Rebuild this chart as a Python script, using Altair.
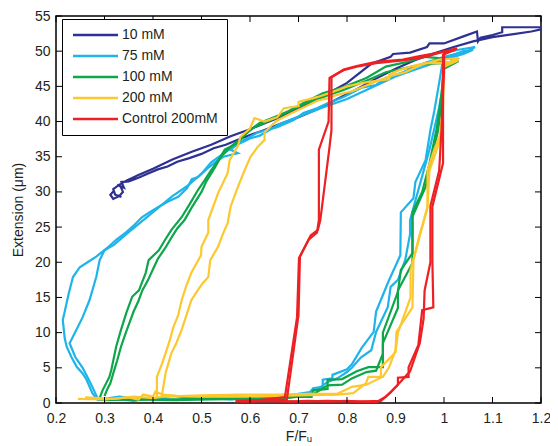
import altair as alt
import pandas as pd

series_names = ["10 mM", "75 mM", "100 mM", "200 mM", "Control 200mM"]
series_colors = ["#2E3192", "#1EB4EA", "#0DA64B", "#FDC82F", "#ED2024"]

x_ticks = [0.2, 0.3, 0.4, 0.5, 0.6, 0.7, 0.8, 0.9, 1.0, 1.1, 1.2]
y_ticks = [0, 5, 10, 15, 20, 25, 30, 35, 40, 45, 50, 55]

# ---- 10 mM ----
x_10a = [0.320, 0.312, 0.318, 0.330, 0.338, 0.333, 0.326, 0.340, 0.335, 0.350, 0.370, 0.390, 0.410, 0.430,
         0.450, 0.475, 0.500, 0.525, 0.550, 0.575, 0.600, 0.630, 0.660, 0.700, 0.740, 0.780, 0.820, 0.860,
         0.900, 0.940, 0.980, 1.020, 1.060, 1.100, 1.140, 1.180, 1.200, 1.200, 1.120, 1.120, 1.100, 1.075,
         1.070, 1.068, 1.040, 1.000, 0.970, 0.965, 0.930, 0.895, 0.890, 0.850, 0.800, 0.750, 0.700, 0.650,
         0.600, 0.560, 0.520, 0.480, 0.440, 0.400, 0.370, 0.345, 0.330, 0.318, 0.322, 0.335]
y_10a = [30.2, 29.6, 29.0, 29.4, 30.0, 30.8, 31.0, 30.6, 31.4, 31.5, 32.0, 32.6, 33.2, 33.6,
         34.3, 34.8, 35.4, 36.2, 36.7, 37.4, 38.1, 38.8, 39.6, 40.6, 41.8, 43.2, 44.6, 46.1,
         47.5, 48.7, 49.7, 50.6, 51.4, 52.0, 52.4, 52.8, 53.1, 53.4, 53.4, 52.7, 52.3, 51.9,
         51.4, 52.8, 52.1, 51.1, 51.1, 50.6, 49.8, 49.6, 49.2, 48.2, 45.5, 43.6, 41.8, 40.3,
         38.9, 37.9, 36.7, 35.7, 34.6, 33.3, 32.4, 31.6, 31.0, 30.4, 29.6, 29.3]

# ---- 75 mM ----
x_75a = [0.285, 0.32, 0.36, 0.40, 0.45, 0.50, 0.56, 0.62, 0.68, 0.72, 0.73, 0.75, 0.75, 0.77, 0.77, 0.80,
         0.81, 0.83, 0.855, 0.86, 0.885, 0.91, 0.911, 0.937, 0.941, 0.962, 0.972, 0.98, 0.99, 1.0, 1.03,
         1.064, 1.05, 1.0, 0.96, 0.915, 0.88, 0.86, 0.83, 0.793, 0.76, 0.738, 0.71, 0.69, 0.656, 0.615,
         0.58, 0.56, 0.575, 0.545, 0.534, 0.515, 0.493, 0.48, 0.47, 0.452, 0.43, 0.412, 0.395, 0.377,
         0.36, 0.345, 0.324, 0.305, 0.283, 0.265, 0.249, 0.235, 0.226, 0.218, 0.214, 0.218, 0.222,
         0.232, 0.243, 0.255, 0.263, 0.275, 0.286]
y_75a = [0.4, 0.6, 0.3, 0.7, 0.4, 0.8, 0.5, 0.9, 0.8, 1.2, 2.1, 2.3, 3.3, 3.5, 4.0, 4.8,
         5.5, 7.8, 10.1, 13.0, 17.2, 21.0, 27.1, 29.1, 31.4, 34.5, 38.8, 41.5, 45.5, 49.7, 50.2,
         50.6, 50.0, 49.2, 48.3, 47.0, 46.2, 45.2, 44.8, 43.5, 42.6, 41.9, 41.2, 40.2, 39.2, 38.4,
         37.1, 36.0, 35.5, 35.0, 34.5, 33.5, 32.1, 31.8, 30.5, 29.3, 28.6, 27.9, 27.2, 26.4,
         25.2, 24.3, 23.2, 22.0, 20.8, 20.0, 19.3, 17.9, 15.5, 13.0, 11.8, 9.2, 8.0,
         6.5, 5.1, 4.2, 3.3, 1.4, 0.4]
x_75b = [0.29, 0.33, 0.38, 0.44, 0.50, 0.56, 0.62, 0.68, 0.72, 0.74, 0.76, 0.78, 0.80, 0.81, 0.829,
         0.85, 0.86, 0.884, 0.89, 0.905, 0.92, 0.93, 0.93, 0.95, 0.97, 0.99, 1.0, 1.0, 1.04, 1.06, 1.04,
         1.0, 0.95, 0.9, 0.85, 0.8, 0.75, 0.70, 0.66, 0.62, 0.60, 0.57, 0.55, 0.52, 0.50, 0.47, 0.44,
         0.41, 0.38, 0.345, 0.32, 0.30, 0.29, 0.283, 0.269, 0.255, 0.239, 0.228, 0.24, 0.255, 0.27, 0.285]
y_75b = [0.5, 0.9, 0.5, 1.0, 0.6, 1.0, 0.7, 1.1, 1.5, 2.0, 3.0, 3.5, 4.4, 5.0, 6.5,
         7.5, 10.1, 13.6, 16.5, 17.5, 20.3, 24.0, 26.0, 31.0, 36.0, 42.0, 46.0, 49.0, 50.0, 50.2, 49.6,
         48.8, 47.6, 46.4, 44.8, 43.2, 42.0, 40.7, 39.6, 38.0, 37.6, 36.6, 35.7, 34.2, 32.6, 30.8, 29.4,
         27.7, 26.0, 24.0, 22.5, 21.7, 20.3, 17.9, 14.6, 12.2, 10.0, 8.5, 6.5, 5.0, 3.0, 0.8]

# ---- 100 mM ----
x_100a = [0.29, 0.35, 0.42, 0.50, 0.58, 0.656, 0.727, 0.73, 0.76, 0.76, 0.79, 0.82, 0.844, 0.874, 0.874,
          0.905, 0.905, 0.935, 0.935, 0.962, 0.975, 0.988, 0.995, 1.0, 1.03, 1.0, 0.962, 0.92, 0.88, 0.84,
          0.793, 0.76, 0.723, 0.69, 0.656, 0.63, 0.609, 0.59, 0.575, 0.548, 0.535, 0.52, 0.505, 0.493,
          0.475, 0.459, 0.438, 0.425, 0.412, 0.391, 0.385, 0.371, 0.357, 0.345, 0.334, 0.324, 0.318,
          0.314, 0.31, 0.296, 0.29]
y_100a = [0.5, 0.6, 0.5, 0.6, 0.7, 0.85, 0.85, 1.8, 2.0, 3.3, 3.4, 4.5, 5.1, 5.1, 8.5,
          13.5, 16.0, 19.9, 26.5, 30.7, 35.0, 38.8, 43.0, 47.5, 48.6, 48.3, 48.2, 47.6, 47.0, 45.8,
          44.5, 43.7, 42.8, 41.8, 40.6, 39.8, 39.2, 38.2, 37.0, 36.0, 34.5, 33.1, 31.5, 30.3,
          28.2, 26.4, 24.6, 23.2, 21.7, 20.3, 18.5, 16.0, 15.1, 12.8, 10.4, 8.0, 6.0,
          4.7, 3.7, 1.8, 0.7]
x_100b = [0.30, 0.36, 0.44, 0.52, 0.60, 0.66, 0.70, 0.73, 0.76, 0.79, 0.81, 0.84, 0.86, 0.874, 0.874,
          0.905, 0.911, 0.935, 0.935, 0.955, 0.97, 0.985, 0.995, 1.0, 1.025, 0.99, 0.96, 0.92, 0.88,
          0.84, 0.793, 0.75, 0.723, 0.68, 0.656, 0.62, 0.60, 0.58, 0.56, 0.54, 0.528, 0.51, 0.50, 0.48,
          0.465, 0.45, 0.438, 0.425, 0.41, 0.40, 0.39, 0.378, 0.37, 0.36, 0.352, 0.344, 0.334, 0.326,
          0.318, 0.312, 0.306, 0.30]
y_100b = [0.4, 0.5, 0.4, 0.5, 0.6, 0.6, 0.9, 1.2, 2.5, 2.6, 3.5, 4.4, 4.6, 7.0, 10.0,
          15.8, 18.9, 21.3, 27.1, 30.0, 34.0, 39.0, 44.0, 48.0, 48.9, 49.0, 49.2, 48.4, 47.8,
          46.2, 44.9, 44.0, 43.1, 41.5, 40.8, 39.8, 38.8, 37.5, 36.4, 35.0, 33.5, 31.5, 30.0, 27.8,
          26.0, 24.8, 23.5, 22.0, 20.5, 19.0, 17.5, 16.0, 14.5, 13.0, 11.5, 10.0, 8.0, 6.0,
          4.2, 2.8, 2.0, 1.0]

# ---- 200 mM ----
x_200a = [0.245, 0.30, 0.35, 0.37, 0.38, 0.40, 0.405, 0.42, 0.45, 0.50, 0.55, 0.60, 0.66, 0.72, 0.78,
          0.813, 0.839, 0.844, 0.874, 0.887, 0.90, 0.902, 0.935, 0.937, 0.950, 0.966, 0.966, 0.98, 0.996,
          0.998, 1.0, 1.03, 1.0, 0.962, 0.93, 0.907, 0.887, 0.887, 0.86, 0.833, 0.80, 0.77, 0.74, 0.70,
          0.70, 0.67, 0.656, 0.63, 0.609, 0.600, 0.58, 0.575, 0.558, 0.554, 0.534, 0.514, 0.514, 0.50,
          0.499, 0.479, 0.468, 0.459, 0.452, 0.442, 0.435, 0.426, 0.418, 0.408, 0.408]
y_200a = [0.6, 0.5, 0.8, 0.5, 1.2, 0.9, 1.6, 1.2, 1.0, 0.9, 0.9, 0.9, 1.0, 1.1, 1.2,
          1.4, 2.8, 3.7, 3.7, 5.1, 7.5, 10.1, 13.6, 20.3, 24.0, 27.7, 33.1, 36.0, 38.8,
          44.0, 47.8, 48.7, 48.3, 48.3, 47.8, 47.3, 46.7, 46.0, 45.8, 45.5, 45.0, 44.2, 43.5, 42.8,
          42.2, 41.9, 40.6, 40.0, 40.5, 39.0, 37.8, 36.5, 34.5, 32.7, 29.8, 26.0, 24.2, 22.2,
          21.0, 18.5, 16.5, 14.6, 12.5, 10.8, 9.0, 7.1, 5.5, 3.7, 0.85]
x_200b = [0.26, 0.32, 0.36, 0.40, 0.42, 0.50, 0.58, 0.66, 0.72, 0.78, 0.81, 0.84, 0.87, 0.87, 0.90,
          0.905, 0.931, 0.931, 0.955, 0.966, 0.97, 0.99, 0.998, 1.0, 1.03, 0.99, 0.95, 0.92, 0.89, 0.85,
          0.81, 0.78, 0.76, 0.74, 0.71, 0.686, 0.66, 0.65, 0.63, 0.63, 0.615, 0.601, 0.589, 0.575, 0.56,
          0.554, 0.544, 0.534, 0.518, 0.514, 0.502, 0.49, 0.479, 0.469, 0.459, 0.448, 0.438, 0.432,
          0.426, 0.418]
y_200b = [0.8, 0.6, 0.9, 0.7, 0.9, 1.1, 1.2, 1.2, 1.3, 1.3, 2.3, 2.6, 3.6, 5.1, 7.2,
          10.0, 15.0, 18.9, 25.0, 28.0, 33.0, 37.0, 42.0, 48.0, 49.0, 48.8, 48.0, 47.0, 46.5, 45.4,
          44.3, 43.8, 43.3, 43.0, 42.0, 41.2, 40.3, 39.8, 38.5, 37.4, 36.3, 35.0, 33.1, 30.7, 27.9,
          25.6, 24.0, 22.2, 20.3, 17.9, 17.0, 15.8, 14.6, 12.5, 10.4, 8.5, 7.1, 5.7,
          4.3, 0.9]

# ---- Control 200mM ----
x_ctla = [0.57, 0.60, 0.64, 0.68, 0.72, 0.76, 0.80, 0.83, 0.86, 0.88, 0.905, 0.905, 0.927, 0.927, 0.947,
          0.955, 0.978, 0.976, 0.976, 0.998, 0.998, 0.998, 1.0, 1.0, 1.027, 0.996, 0.962, 0.915, 0.86,
          0.82, 0.793, 0.782, 0.764, 0.762, 0.742, 0.742, 0.738, 0.721, 0.701, 0.697, 0.672, 0.62, 0.57]
y_ctla = [0.3, 0.2, 0.3, 0.2, 0.3, 0.2, 0.3, 0.2, 0.1, 0.9, 2.6, 3.6, 3.7, 5.1, 8.2,
          13.2, 13.6, 20.3, 27.9, 34.1, 38.8, 44.0, 47.0, 49.6, 50.4, 49.9, 49.2, 48.7, 48.3,
          47.8, 47.3, 46.9, 46.2, 40.0, 36.0, 26.0, 24.2, 23.2, 20.6, 12.2, 0.85, 0.4, 0.2]
x_ctlb = [0.58, 0.64, 0.70, 0.76, 0.82, 0.87, 0.89, 0.91, 0.93, 0.95, 0.958, 0.96, 0.972, 0.972, 0.99,
          0.995, 0.998, 0.998, 1.025, 0.99, 0.95, 0.915, 0.86, 0.82, 0.793, 0.782, 0.768, 0.768, 0.764,
          0.745, 0.740, 0.725, 0.703, 0.700, 0.676, 0.62, 0.58]
y_ctlb = [0.2, 0.3, 0.2, 0.3, 0.2, 0.3, 1.5, 3.0, 4.5, 8.5, 12.0, 16.0, 20.0, 28.0, 33.0,
          39.0, 47.0, 49.5, 50.3, 49.8, 49.3, 48.8, 48.5, 47.9, 47.4, 46.9, 46.3, 38.8, 36.4,
          26.0, 24.6, 23.8, 20.8, 12.5, 0.5, 0.3, 0.3]

loops = [
    ("10 mM", x_10a, y_10a),
    ("75 mM", x_75a, y_75a),
    ("75 mM", x_75b, y_75b),
    ("100 mM", x_100a, y_100a),
    ("100 mM", x_100b, y_100b),
    ("200 mM", x_200a, y_200a),
    ("200 mM", x_200b, y_200b),
    ("Control 200mM", x_ctla, y_ctla),
    ("Control 200mM", x_ctlb, y_ctlb),
]

rows = []
for i, (name, xs, ys) in enumerate(loops):
    for j, (xv, yv) in enumerate(zip(xs, ys)):
        rows.append({"series": name, "loop": i, "seq": j, "F": xv, "ext": yv})
df = pd.DataFrame(rows)

W, H = 485, 387
FONT = "Liberation Sans"
TXT = "#231F20"

xscale = alt.Scale(domain=[0.2, 1.2], nice=False, zero=False)
yscale = alt.Scale(domain=[0, 55], nice=False, zero=False)
xaxis = alt.Axis(values=x_ticks, format="~g", title="F/Fᵤ", ticks=False, domain=False,
                 grid=False, labelPadding=8, titlePadding=4, labelFlush=False)
yaxis = alt.Axis(values=y_ticks, format="d", title="Extension (μm)", ticks=False,
                 domain=False, grid=False, labelPadding=6, titlePadding=9, labelFlush=False)

lines = alt.Chart(df).mark_line(strokeWidth=2.2, clip=True).encode(
    x=alt.X("F:Q", scale=xscale, axis=xaxis, title="F/Fᵤ"),
    y=alt.Y("ext:Q", scale=yscale, axis=yaxis, title="Extension (μm)"),
    color=alt.Color("series:N", scale=alt.Scale(domain=series_names, range=series_colors),
                    legend=alt.Legend(title=None, orient="none", legendX=6, legendY=3,
                                      symbolType="M-1,0H8", symbolSize=100, symbolStrokeWidth=2.5,
                                      labelFontSize=14, labelFont=FONT, labelColor=TXT,
                                      strokeColor="black", fillColor="white", padding=9,
                                      rowPadding=7, labelOffset=37)),
    detail="loop:N",
    order="seq:Q",
)

tx = pd.DataFrame({"F": x_ticks})
ty = pd.DataFrame({"ext": y_ticks})
tick_b = alt.Chart(tx).mark_rule(color="black", strokeWidth=1).encode(
    x=alt.X("F:Q", scale=xscale, axis=xaxis, title="F/Fᵤ"), y=alt.value(H), y2=alt.value(H - 6))
tick_t = alt.Chart(tx).mark_rule(color="black", strokeWidth=1).encode(
    x=alt.X("F:Q", scale=xscale, axis=xaxis, title="F/Fᵤ"), y=alt.value(0), y2=alt.value(6))
tick_l = alt.Chart(ty).mark_rule(color="black", strokeWidth=1).encode(
    y=alt.Y("ext:Q", scale=yscale, axis=yaxis, title="Extension (μm)"), x=alt.value(0), x2=alt.value(6))
tick_r = alt.Chart(ty).mark_rule(color="black", strokeWidth=1).encode(
    y=alt.Y("ext:Q", scale=yscale, axis=yaxis, title="Extension (μm)"), x=alt.value(W), x2=alt.value(W - 6))

chart = alt.layer(lines, tick_b, tick_t, tick_l, tick_r).properties(
    width=W, height=H,
    autosize=alt.AutoSizeParams(type="none"),
    padding={"left": 48, "top": 8, "right": 9, "bottom": 40},
    background="white",
).configure_view(
    stroke="black", strokeWidth=1.5
).configure_axis(
    labelFont=FONT, titleFont=FONT, labelFontSize=14, titleFontSize=14,
    labelColor=TXT, titleColor=TXT, titleFontWeight="normal",
)

chart.save("out.html", embed_options={"renderer": "svg", "actions": False})
